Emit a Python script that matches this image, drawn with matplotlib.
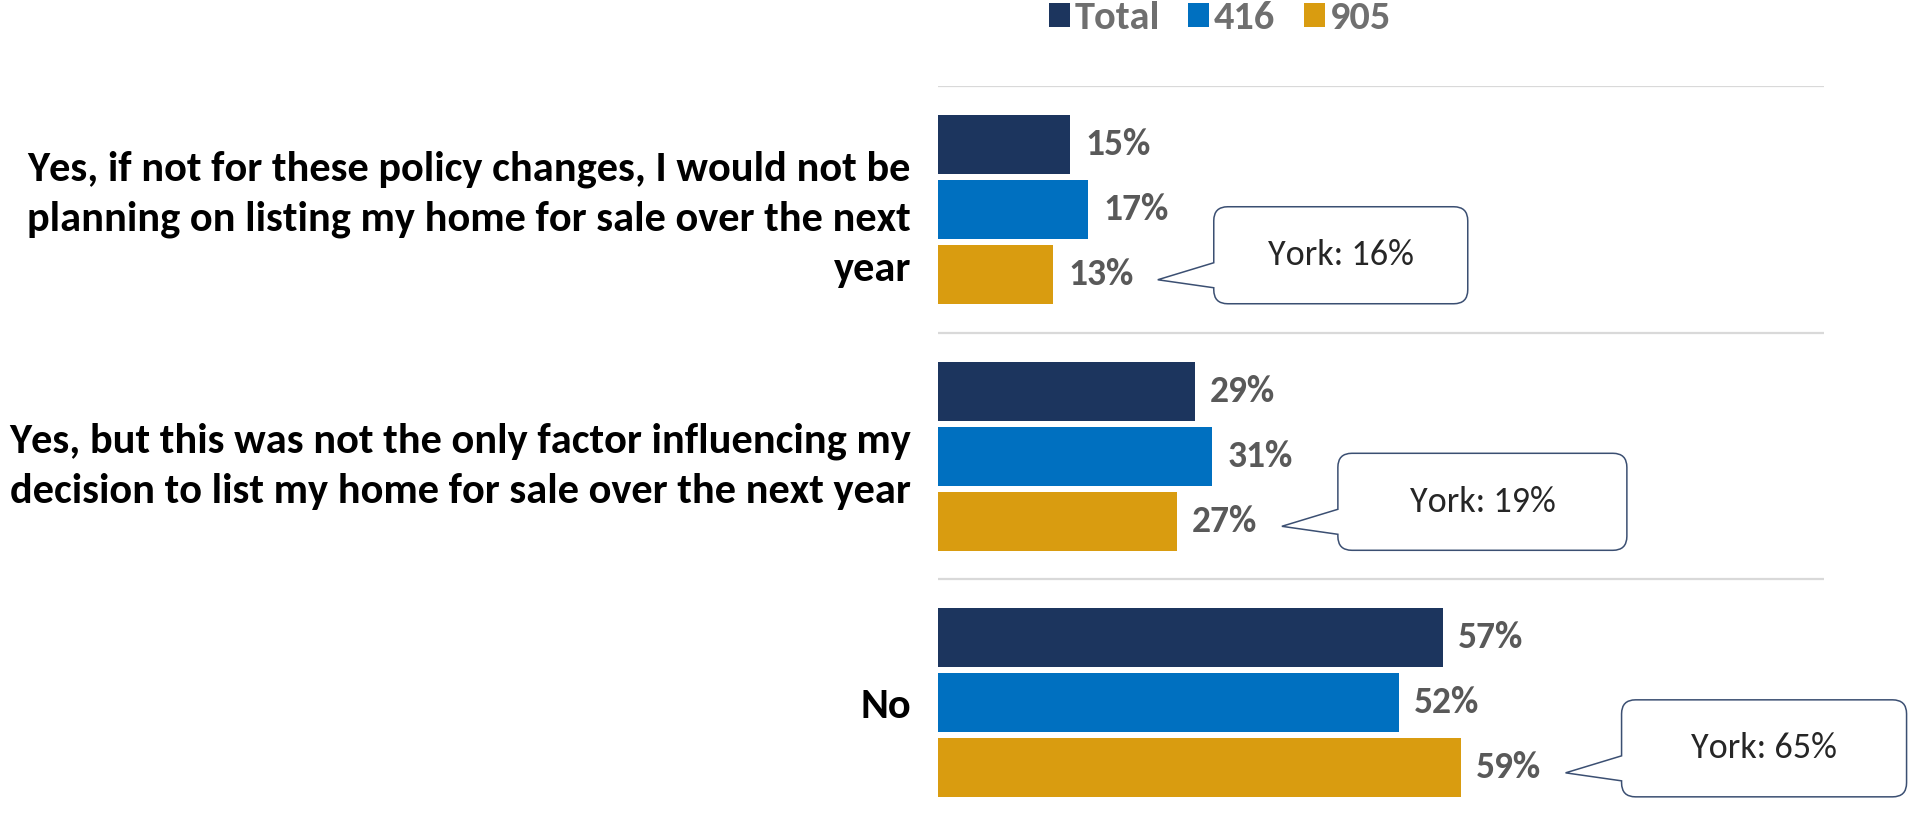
import matplotlib
matplotlib.use('Agg')
import matplotlib.pyplot as plt
import matplotlib.font_manager as fm
from matplotlib.path import Path
from matplotlib.patches import PathPatch
from matplotlib.transforms import IdentityTransform
import numpy as np

# datos
categorias = [
    'Yes, if not for these policy changes, I would not be\nplanning on listing my home for sale over the next\nyear',
    'Yes, but this was not the only factor influencing my\ndecision to list my home for sale over the next year',
    'No',
]
series = ['Total', '416', '905']
total = [15, 29, 57]
v416 = [17, 31, 52]
v905 = [13, 27, 59]
york = [16, 19, 65]

colores = ['#1c355e', '#0070c0', '#d99c10']

disponibles = {f.name for f in fm.fontManager.ttflist}
FUENTE = 'Carlito' if 'Carlito' in disponibles else 'Liberation Sans'
plt.rcParams['font.family'] = [FUENTE, 'DejaVu Sans']

fig = plt.figure(figsize=(19.09, 8.22), dpi=100)
ax = fig.add_axes([0.4911, -0.0049, 0.4644, 0.8998])

y = np.arange(len(categorias))
paso = 0.264
alto = 0.2386
valores = [total, v416, v905]
barras = []
for i, (nombre, vals) in enumerate(zip(series, valores)):
    b = ax.barh(y + (i - 1) * paso, vals, height=alto, color=colores[i], label=nombre)
    barras.append(b)
    for yy, v in zip(y + (i - 1) * paso, vals):
        ax.annotate(f'{v}%', (v, yy), xytext=(11, 0), textcoords='offset points',
                    va='center', ha='left', fontsize=27, fontweight='bold', color='#595959')

ax.set_xlim(0, 100)
ax.set_ylim(2.5, -0.5)
for g in [-0.5, 0.5, 1.5]:
    ax.axhline(g, color='#d9d9d9', lw=1.6, zorder=0)

ax.set_yticks(y)
ax.set_yticklabels(categorias, fontsize=30.5, fontweight='bold', color='black',
                   ha='right', linespacing=1.42)
ax.tick_params(axis='y', length=0, pad=19)
ax.set_xticks([])
for s in ax.spines.values():
    s.set_visible(False)

fig.legend(handles=barras, labels=series, loc='center', bbox_to_anchor=(0.639, 0.978),
           ncol=3, frameon=False, handlelength=0.52, handleheight=0.52,
           handletextpad=0.12, columnspacing=0.7, labelcolor='#6f6f6f',
           prop={'family': FUENTE, 'weight': 'bold', 'size': 29})

# globos con el valor de York
anchos = [254, 289, 285]


def globo(xv, yv, texto, ancho):
    tx, ty = ax.transData.transform((xv, yv))
    tx += 105
    ty -= 5
    izq = tx + 56
    arriba = ty + 73
    abajo = arriba - 97
    der = izq + ancho
    r = 14
    b1 = arriba - 56
    b2 = arriba - 81
    verts = [
        (izq, b1), (izq, arriba - r), (izq, arriba), (izq + r, arriba),
        (der - r, arriba), (der, arriba), (der, arriba - r),
        (der, abajo + r), (der, abajo), (der - r, abajo),
        (izq + r, abajo), (izq, abajo), (izq, abajo + r),
        (izq, b2), (tx, ty), (izq, b1),
    ]
    codes = [Path.MOVETO, Path.LINETO, Path.CURVE3, Path.CURVE3,
             Path.LINETO, Path.CURVE3, Path.CURVE3,
             Path.LINETO, Path.CURVE3, Path.CURVE3,
             Path.LINETO, Path.CURVE3, Path.CURVE3,
             Path.LINETO, Path.LINETO, Path.CLOSEPOLY]
    p = PathPatch(Path(verts, codes), facecolor='white', edgecolor='#3b4f72',
                  lw=1.1, transform=IdentityTransform())
    fig.add_artist(p)
    fig.text((izq + der) / 2, (arriba + abajo) / 2, texto, transform=IdentityTransform(),
             ha='center', va='center', fontsize=26, color='#262626')


for i, v in enumerate(v905):
    globo(v, y[i] + paso, f'York: {york[i]}%', anchos[i])

fig.savefig('out.png', dpi=100)
